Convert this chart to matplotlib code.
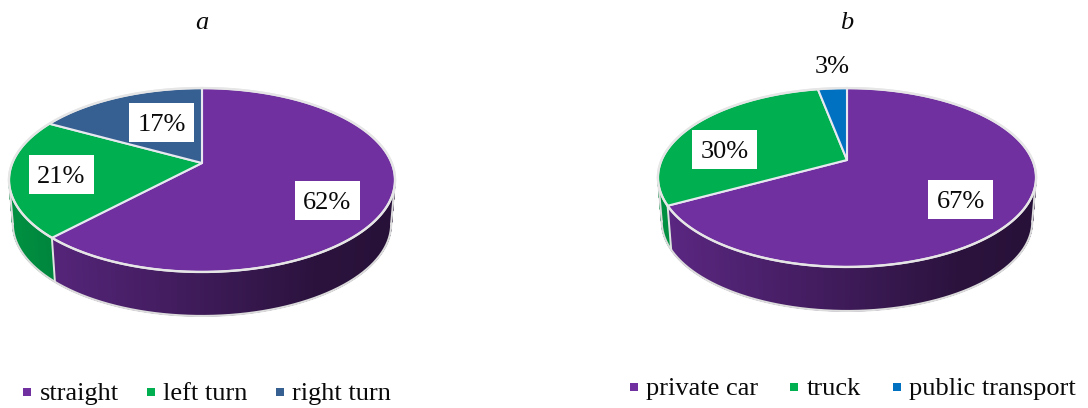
import numpy as np
import matplotlib
matplotlib.use('Agg')
import matplotlib.pyplot as plt
from matplotlib.patches import Polygon, Rectangle

plt.rcParams['font.family'] = ['Liberation Serif', 'DejaVu Serif']

# values
labels_a = ['straight', 'left turn', 'right turn']
values_a = [62, 21, 17]
labels_b = ['private car', 'truck', 'public transport']
values_b = [67, 30, 3]

colors_a = ['#7030A0', '#00B050', '#376092']
colors_b = ['#7030A0', '#00B050', '#0070C0']

W, H = 1088, 408
DEPTH = 44
TEXT_SIZE = 19

fig = plt.figure(figsize=(W / 100, H / 100), dpi=100)
ax = fig.add_axes([0, 0, 1, 1])
ax.set_xlim(0, W)
ax.set_ylim(H, 0)
ax.axis('off')


def project(theta, geo, r=1.0):
    """Perspective view of a point of the disc, theta clockwise from the top."""
    cx, cy, b, a, k = geo
    X = r * np.sin(theta)
    Y = r * np.cos(theta)
    w = 1 + k * Y
    return cx + b * X / w, cy - a * Y / w


def to_bottom(x, y, geo):
    return geo[0] + 0.98 * (x - geo[0]), y + DEPTH


def shade(x, geo):
    # side wall goes darker from left to right
    u = (x - geo[0]) / (geo[2] * 1.02)
    return np.interp(u, [-1, 0, 0.6, 1], [0.82, 0.55, 0.38, 0.35])


def draw_pie(values, colors, geo):
    edges = np.cumsum([0] + list(values)) / sum(values) * 2 * np.pi
    # widest points of the ellipse, the wall is only seen between them
    th_s = np.arccos(-geo[4])

    for i, col in enumerate(colors):
        rgb = np.array(matplotlib.colors.to_rgb(col))
        lo = max(edges[i], th_s)
        hi = min(edges[i + 1], 2 * np.pi - th_s)
        if hi <= lo:
            continue
        th = np.linspace(lo, hi, max(int(np.degrees(hi - lo) * 4), 2) + 1)
        x, y = project(th, geo)
        xb, yb = to_bottom(x, y, geo)
        for j in range(len(th) - 1):
            pts = [(x[j], y[j]), (x[j + 1], y[j + 1]), (xb[j + 1], yb[j + 1]), (xb[j], yb[j])]
            c = rgb * shade((x[j] + x[j + 1]) / 2, geo)
            ax.add_patch(Polygon(pts, closed=True, fc=c, ec=c, lw=0.8, zorder=1))

    # outer outline of the wall
    th = np.linspace(th_s, 2 * np.pi - th_s, 300)
    x, y = project(th, geo)
    xb, yb = to_bottom(x, y, geo)
    ax.plot(xb, yb, color='#dcdcdc', lw=1.5, zorder=2)
    for side in [0, -1]:
        ax.plot([x[side], xb[side]], [y[side], yb[side]], color='#dcdcdc', lw=1.5, zorder=2)

    # separators on the wall
    for e in edges[1:-1]:
        if th_s < e < 2 * np.pi - th_s:
            x0, y0 = project(e, geo)
            x1, y1 = to_bottom(x0, y0, geo)
            ax.plot([x0, x1], [y0, y1], color='#e2e2e2', lw=1.4, zorder=2)

    # top faces
    for i, col in enumerate(colors):
        th = np.linspace(edges[i], edges[i + 1], 200)
        x, y = project(th, geo)
        pts = np.column_stack([np.r_[geo[0], x], np.r_[geo[1], y]])
        ax.add_patch(Polygon(pts, closed=True, fc=col, ec='#e8e8f0', lw=1.5, joinstyle='round', zorder=3))

    th = np.linspace(0, 2 * np.pi, 400)
    x, y = project(th, geo)
    ax.plot(x, y, color='#e6e6e6', lw=1.7, zorder=4)


def draw_labels(values, boxes):
    for v, (x0, y0, boxed) in zip(values, boxes):
        if boxed:
            ax.add_patch(Rectangle((x0, y0), 65, 39, fc='white', ec='none', zorder=5))
            ax.text(x0 + 32.5, y0 + 28, '%d%%' % v, fontsize=TEXT_SIZE, color='#0a0a0a',
                    ha='center', va='baseline', zorder=6)
        else:
            ax.text(x0, y0, '%d%%' % v, fontsize=TEXT_SIZE, color='#0a0a0a',
                    ha='center', va='baseline', zorder=6)


def draw_legend(labels, colors, xs, base):
    for name, col, (xs_sq, xs_txt) in zip(labels, colors, xs):
        ax.add_patch(Rectangle((xs_sq, base - 12), 8, 8, fc=col, ec='none', zorder=5))
        ax.text(xs_txt, base, name, fontsize=TEXT_SIZE, color='#0a0a0a', ha='left', va='baseline')


# geometry: apex x, apex y, width, height, perspective
geo_a = (202, 163, 189.7, 88.8, 0.185)
geo_b = (847, 160, 185.4, 86.0, 0.196)

draw_pie(values_a, colors_a, geo_a)
draw_pie(values_b, colors_b, geo_b)

draw_labels(values_a, [(295, 181, True), (29, 155, True), (129, 103, True)])
draw_labels(values_b, [(928, 180, True), (692, 130, True), (832, 73, False)])

draw_legend(labels_a, colors_a, [(23, 40), (147, 163), (276, 292)], 400)
draw_legend(labels_b, colors_b, [(630, 646), (790, 807), (893, 909)], 395)

ax.text(202, 29, 'a', fontsize=TEXT_SIZE, style='italic', color='#0a0a0a', ha='center', va='baseline')
ax.text(847, 29, 'b', fontsize=TEXT_SIZE, style='italic', color='#0a0a0a', ha='center', va='baseline')

fig.savefig('out.png', dpi=100)
